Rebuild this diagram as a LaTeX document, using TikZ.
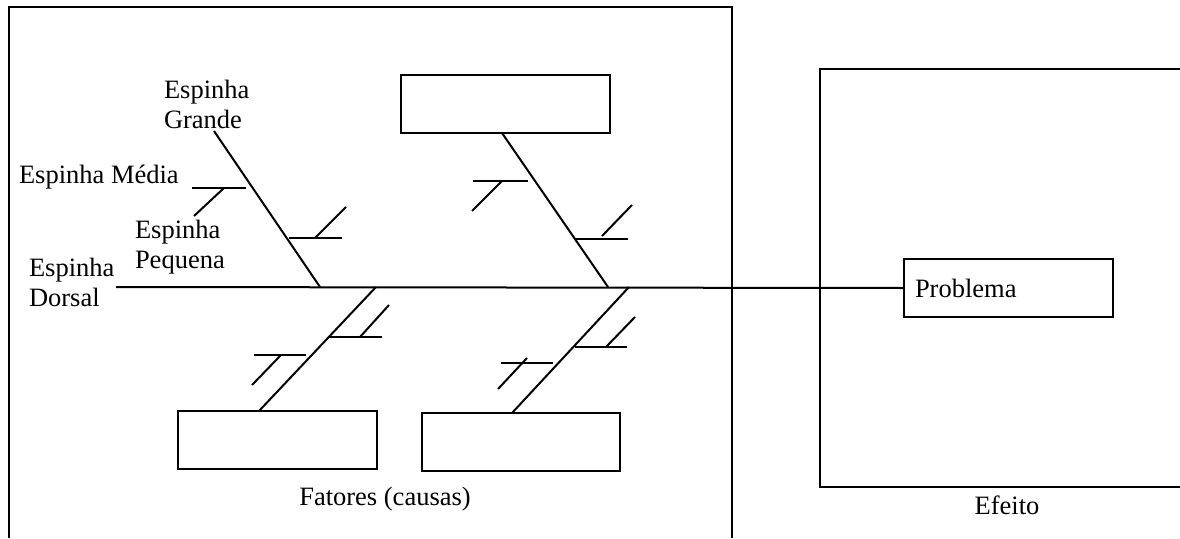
\documentclass[tikz,border=0pt]{standalone}
\usepackage{fontspec}
\setmainfont{Liberation Serif}
\begin{document}
\begin{tikzpicture}[x=1pt,y=-1pt,line width=2pt,
  causebox/.style={draw,minimum width=#1,minimum height=58pt,inner sep=0pt},
  lbl/.style={font=\fontsize{26.5}{30}\selectfont,inner sep=0pt,align=left},
  bone/.style={line width=2pt}]
\useasboundingbox (0,0) rectangle (1180,538);
% frames
\draw (9,538) -- (9,7) -- (732,7) -- (732,538);
\draw (1180,69) -- (820,69) -- (820,487) -- (1180,487);
% boxes
\node[causebox=209pt] (top) at (505.5,104) {};
\node[causebox=199pt] (b1) at (277.5,440) {};
\node[causebox=198pt] (b2) at (521,442) {};
\node[causebox=209pt,text width=187pt,align=left,font=\fontsize{26.5}{30}\selectfont] (prob) at (1008.5,288) {Problema};
% spine
\coordinate (tail) at (116,287);
\draw[bone] (tail) -- (prob.west);
% big bones
\coordinate (g1a) at (214,131); \coordinate (g1b) at (320,287);
\coordinate (g2a) at (502,133); \coordinate (g2b) at (608,287);
\coordinate (g3a) at (376,287); \coordinate (g3b) at (259,411);
\coordinate (g4a) at (629,287); \coordinate (g4b) at (512,413);
\draw[bone] (g1a) -- (g1b);
\draw[bone] (g2a) -- (g2b);
\draw[bone] (g3a) -- (g3b);
\draw[bone] (g4a) -- (g4b);
% medium and small bones
\draw[bone] (192,188) -- (246,188); \draw[bone] (194,216) -- (224,188);
\draw[bone] (289,238) -- (342,238); \draw[bone] (315,238) -- (346,207);
\draw[bone] (473,181) -- (528,181); \draw[bone] (472,211) -- (502,181);
\draw[bone] (574,239) -- (628,239); \draw[bone] (602,236) -- (632,205);
\draw[bone] (328,337) -- (382,337); \draw[bone] (360,337) -- (389,305);
\draw[bone] (254,355) -- (306,355); \draw[bone] (252,385) -- (281,355);
\draw[bone] (575,347) -- (627,347); \draw[bone] (606,347) -- (635,317);
\draw[bone] (501,363) -- (553,363); \draw[bone] (498,389) -- (527,358);
% labels
\node[lbl,anchor=base west] (lg) at (163,128) {Espinha\\Grande};
\node[lbl,anchor=base west] (lm) at (18,183) {Espinha Média};
\node[lbl,anchor=base west] (lp) at (134,268) {Espinha\\Pequena};
\node[lbl,anchor=base west] (ld) at (28,306) {Espinha\\Dorsal};
\node[lbl,anchor=base] (lf) at (385,505) {Fatores (causas)};
\node[lbl,anchor=base] (le) at (1007,514) {Efeito};
\end{tikzpicture}
\end{document}
